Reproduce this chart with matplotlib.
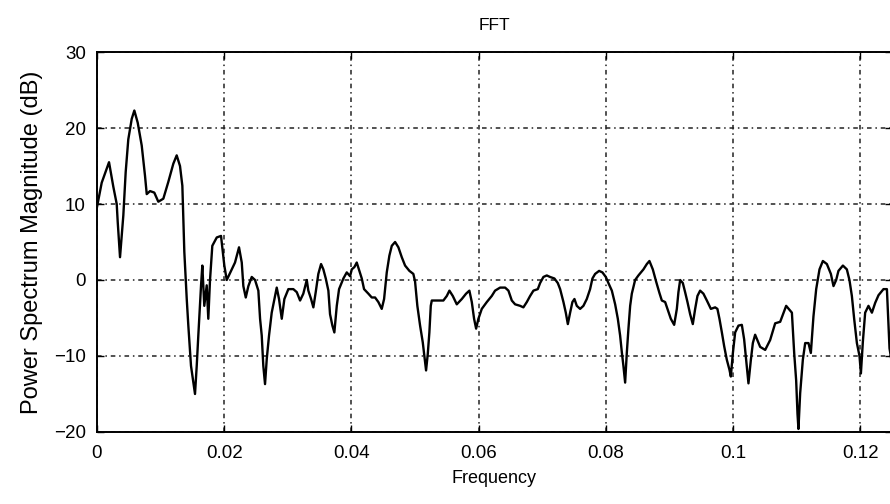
import matplotlib
matplotlib.use('Agg')
import matplotlib.pyplot as plt

# spectrum samples (frequency, power in dB)
freq = [0.0, 0.00074, 0.00189, 0.00256, 0.00310, 0.00326, 0.00362, 0.00414,
        0.00451, 0.00492, 0.00546, 0.00587, 0.00640, 0.00703, 0.00755, 0.00782,
        0.00834, 0.00901, 0.00964, 0.01043, 0.01121, 0.01200, 0.01253, 0.01305,
        0.01342, 0.01373, 0.01411, 0.01436, 0.01478, 0.01514, 0.01541, 0.01568,
        0.01593, 0.01636, 0.01656, 0.01687, 0.01725, 0.01750, 0.01777, 0.01813,
        0.01883, 0.01950, 0.02002, 0.02040, 0.02118, 0.02170, 0.02233, 0.02276,
        0.02301, 0.02339, 0.02380, 0.02433, 0.02485, 0.02537, 0.02564, 0.02590,
        0.02615, 0.02642, 0.02669, 0.02705, 0.02747, 0.02799, 0.02826, 0.02862,
        0.02905, 0.02946, 0.03009, 0.03087, 0.03141, 0.03193, 0.03244, 0.03298,
        0.03323, 0.03366, 0.03402, 0.03439, 0.03480, 0.03523, 0.03559, 0.03597,
        0.03638, 0.03664, 0.03701, 0.03732, 0.03770, 0.03806, 0.03874, 0.03927,
        0.03979, 0.04006, 0.04047, 0.04084, 0.04163, 0.04199, 0.04267, 0.04320,
        0.04372, 0.04424, 0.04477, 0.04514, 0.04556, 0.04597, 0.04635, 0.04687,
        0.04739, 0.04792, 0.04844, 0.04912, 0.04974, 0.05001, 0.05037, 0.05080,
        0.05122, 0.05158, 0.05174, 0.05201, 0.05226, 0.05248, 0.05264, 0.05342,
        0.05446, 0.05500, 0.05541, 0.05594, 0.05657, 0.05736, 0.05803, 0.05855,
        0.05893, 0.05929, 0.05961, 0.05997, 0.06050, 0.06129, 0.06207, 0.06259,
        0.06338, 0.06417, 0.06469, 0.06522, 0.06574, 0.06653, 0.06704, 0.06758,
        0.06810, 0.06862, 0.06931, 0.06967, 0.07019, 0.07072, 0.07124, 0.07192,
        0.07245, 0.07282, 0.07334, 0.07371, 0.07403, 0.07439, 0.07475, 0.07507,
        0.07544, 0.07596, 0.07648, 0.07701, 0.07753, 0.07790, 0.07832, 0.07895,
        0.07947, 0.08000, 0.08041, 0.08095, 0.08147, 0.08189, 0.08225, 0.08252,
        0.08277, 0.08304, 0.08331, 0.08356, 0.08383, 0.08409, 0.08461, 0.08513,
        0.08592, 0.08645, 0.08686, 0.08739, 0.08791, 0.08843, 0.08881, 0.08933,
        0.08969, 0.09022, 0.09075, 0.09117, 0.09142, 0.09169, 0.09211, 0.09247,
        0.09284, 0.09326, 0.09368, 0.09405, 0.09441, 0.09483, 0.09535, 0.09589,
        0.09652, 0.09719, 0.09755, 0.09787, 0.09825, 0.09861, 0.09903, 0.09944,
        0.09966, 0.09997, 0.10034, 0.10086, 0.10139, 0.10175, 0.10207, 0.10243,
        0.10281, 0.10312, 0.10348, 0.10427, 0.10506, 0.10584, 0.10663, 0.10742,
        0.10836, 0.10926, 0.10962, 0.10993, 0.11014, 0.11029, 0.11056, 0.11098,
        0.11135, 0.11187, 0.11224, 0.11265, 0.11308, 0.11360, 0.11413, 0.11476,
        0.11539, 0.11580, 0.11622, 0.11658, 0.11728, 0.11790, 0.11831, 0.11869,
        0.11905, 0.11948, 0.11989, 0.12011, 0.12042, 0.12078, 0.12130, 0.12184,
        0.12236, 0.12288, 0.12366, 0.12420, 0.12461, 0.125]
power_db = [9.6, 12.8, 15.5, 12.3, 10.0, 7.6, 3.0, 8.5,
            14.2, 18.5, 21.2, 22.3, 20.7, 17.7, 13.7, 11.3,
            11.7, 11.5, 10.3, 10.7, 12.9, 15.3, 16.4, 15.0,
            12.4, 3.7, -2.5, -6.0, -11.3, -13.4, -15.0, -11.3,
            -7.3, -0.7, 1.9, -3.4, -0.7, -5.1, 0.0, 4.5,
            5.6, 5.8, 1.9, 0.0, 1.4, 2.3, 4.3, 2.3,
            -0.8, -2.3, -0.8, 0.4, 0.0, -1.4, -5.1, -7.3,
            -11.3, -13.7, -10.4, -7.3, -4.3, -2.1, -1.0, -2.5,
            -5.1, -2.5, -1.2, -1.2, -1.6, -2.7, -1.8, 0.0,
            -1.4, -2.5, -3.6, -1.6, 0.8, 2.1, 1.4, 0.2,
            -1.4, -4.5, -6.0, -6.9, -3.4, -1.2, 0.2, 1.0,
            0.5, 1.4, 1.7, 2.3, 0.2, -1.2, -1.8, -2.3,
            -2.3, -2.9, -3.8, -2.5, 1.0, 3.2, 4.5, 5.0,
            4.3, 3.0, 1.9, 1.2, 0.8, -0.2, -3.4, -6.0,
            -8.2, -10.8, -11.9, -9.7, -6.9, -3.4, -2.7, -2.7,
            -2.7, -2.1, -1.4, -2.1, -3.2, -2.5, -1.8, -1.4,
            -2.9, -5.1, -6.4, -5.1, -3.8, -2.9, -2.1, -1.4,
            -1.0, -1.0, -1.4, -2.7, -3.2, -3.4, -3.6, -2.9,
            -2.1, -1.4, -1.2, -0.4, 0.4, 0.6, 0.4, 0.2,
            -0.4, -1.2, -2.9, -4.3, -5.8, -4.3, -2.9, -2.5,
            -3.4, -3.8, -3.4, -2.5, -1.2, 0.2, 0.8, 1.2,
            1.0, 0.4, -0.4, -1.4, -3.2, -5.1, -7.3, -9.5,
            -11.3, -13.5, -9.5, -6.4, -3.4, -1.8, 0.0, 0.6,
            1.4, 2.1, 2.5, 1.4, -0.2, -1.7, -2.7, -2.9,
            -3.8, -5.1, -5.9, -3.8, -1.6, 0.0, -0.4, -1.6,
            -2.9, -4.5, -5.8, -3.8, -2.1, -1.4, -1.8, -2.7,
            -3.8, -3.6, -3.8, -5.1, -6.9, -8.7, -10.5, -11.8,
            -12.7, -9.7, -6.9, -6.0, -5.9, -7.8, -10.5, -13.6,
            -10.5, -8.3, -7.2, -8.8, -9.2, -7.9, -5.7, -5.5,
            -3.4, -4.3, -9.6, -13.2, -17.6, -19.6, -14.9, -10.5,
            -8.3, -8.3, -9.6, -4.8, -1.2, 1.4, 2.5, 2.1,
            0.8, -0.8, 0.0, 1.2, 1.9, 1.4, 0.0, -2.1,
            -5.1, -8.3, -10.0, -12.3, -8.1, -4.3, -3.4, -4.3,
            -3.0, -2.0, -1.2, -1.2, -9.0, -11.0]

xtick_vals = [0, 0.02, 0.04, 0.06, 0.08, 0.1, 0.12]
xtick_labels = ['0', '0.02', '0.04', '0.06', '0.08', '0.1', '0.12']
ytick_vals = [-20, -10, 0, 10, 20, 30]
ytick_labels = ['\u221220', '\u221210', '0', '10', '20', '30']

plt.rcParams['font.family'] = ['Liberation Sans', 'DejaVu Sans']

fig = plt.figure(figsize=(8.9, 5.04), dpi=100)
ax = fig.add_axes([97/890, 72/504, 795/890, 380/504])

ax.plot(freq, power_db, color='black', linewidth=1.7, zorder=3)

ax.set_xlim(0, 0.125)
ax.set_ylim(-20, 30)
ax.set_xticks(xtick_vals)
ax.set_xticklabels(xtick_labels)
ax.set_yticks(ytick_vals)
ax.set_yticklabels(ytick_labels)

# matlab style dotted grid
ax.grid(True, color='#222222', linewidth=1.1, linestyle=(0, (3, 2.5, 1, 2.5)), zorder=1)
ax.tick_params(direction='in', length=5, width=1, top=True, right=True,
               labelsize=13.5, colors='black')
ax.tick_params(axis='x', pad=9)
ax.tick_params(axis='y', pad=8)
for s in ax.spines.values():
    s.set_linewidth(1.4)

ax.set_title('FFT', fontsize=12.5, pad=16)
ax.set_xlabel('Frequency', fontsize=13, labelpad=6)
ax.set_ylabel('Power Spectrum Magnitude (dB)', fontsize=17, labelpad=8)

plt.savefig('out.png', dpi=100)
